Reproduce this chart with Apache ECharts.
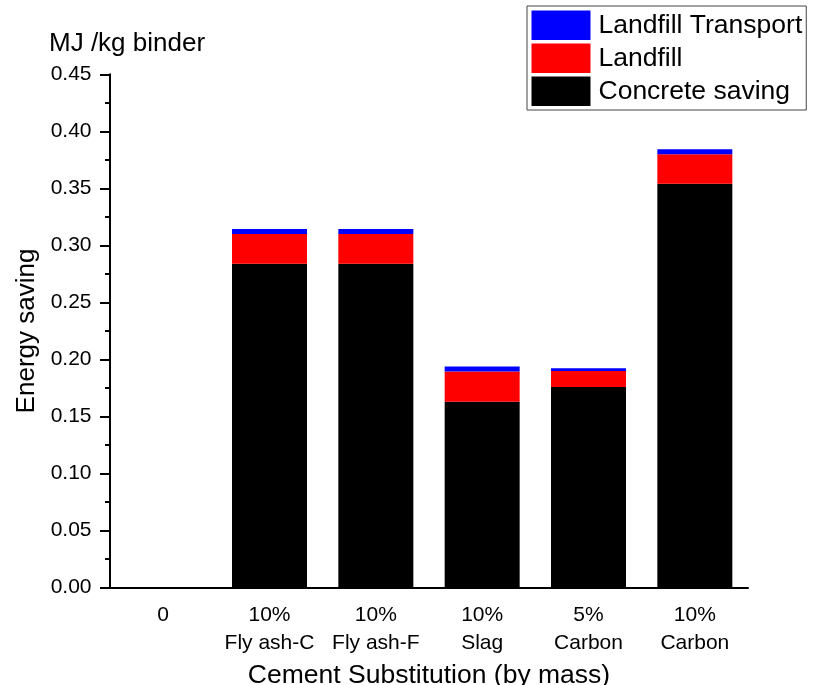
<!DOCTYPE html>
<html>
<head>
<meta charset="utf-8">
<script src="https://cdn.jsdelivr.net/npm/echarts@6/dist/echarts.min.js"></script>
<style>
  html, body { margin: 0; padding: 0; background: #fff; }
  #chart { width: 822px; height: 685px; }
</style>
</head>
<body>
<div id="chart"></div>
<script>
// categories on the x axis (two lines each)
const categories = ['0', '10%\nFly ash-C', '10%\nFly ash-F', '10%\nSlag', '5%\nCarbon', '10%\nCarbon'];

// stacked parts, MJ / kg binder
const concreteSaving = [0, 0.284, 0.284, 0.163, 0.176, 0.354];
const landfill = [0, 0.026, 0.026, 0.0265, 0.014, 0.026];
const landfillTransport = [0, 0.0044, 0.0044, 0.0044, 0.0024, 0.0042];

const font = 'Arial, "Liberation Sans", sans-serif';

const chart = echarts.init(document.getElementById('chart'), null, { renderer: 'canvas' });

chart.setOption({
    backgroundColor: '#fff',
    animation: false,
    textStyle: { fontFamily: font, color: '#000' },
    title: {
        text: 'MJ /kg binder',
        left: 44,
        top: 26,
        textStyle: { fontFamily: font, fontSize: 26, fontWeight: 'normal', color: '#000' }
    },
    legend: {
        data: ['Landfill Transport', 'Landfill', 'Concrete saving'],
        orient: 'vertical',
        left: 527,
        top: 6,
        padding: [4.5, 4, 4, 4.5],
        itemGap: 3.5,
        itemWidth: 59,
        itemHeight: 29.5,
        icon: 'rect',
        borderColor: '#444',
        borderWidth: 1,
        textStyle: { fontFamily: font, fontSize: 26.5, lineHeight: 29.5, color: '#000', padding: [0, 0, 0, 3] }
    },
    grid: {
        left: 110, right: 74, top: 74.3, bottom: 97.3,
        containLabel: false,
        outerBoundsMode: 'none'
    },
    xAxis: [
        {
            type: 'category',
            data: categories,
            name: 'Cement Substitution (by mass)',
            nameLocation: 'middle',
            nameGap: 69,
            nameTextStyle: { fontFamily: font, fontSize: 26.5, color: '#000' },
            axisLine: { lineStyle: { color: '#000', width: 2 } },
            axisTick: { alignWithLabel: true, length: 9, lineStyle: { color: '#000', width: 2 } },
            axisLabel: { interval: 0, fontFamily: font, fontSize: 21, color: '#000', margin: 14, lineHeight: 28 }
        },
        {
            // short ticks at category boundaries
            type: 'category',
            data: categories,
            position: 'bottom',
            axisLine: { show: false },
            axisTick: { interval: 0, alignWithLabel: false, length: 5, lineStyle: { color: '#000', width: 2 } },
            axisLabel: { show: false }
        }
    ],
    yAxis: {
        type: 'value',
        min: 0,
        max: 0.45,
        interval: 0.05,
        name: 'Energy saving',
        nameLocation: 'middle',
        nameGap: 65,
        nameRotate: 90,
        nameTextStyle: { fontFamily: font, fontSize: 26, color: '#000' },
        axisLine: { show: true, lineStyle: { color: '#000', width: 2 } },
        axisTick: { show: true, length: 10, lineStyle: { color: '#000', width: 2 } },
        minorTick: { show: true, splitNumber: 2, length: 5, lineStyle: { color: '#000', width: 2 } },
        splitLine: { show: false },
        axisLabel: {
            fontFamily: font, fontSize: 21, color: '#000', margin: 18.5,
            formatter: v => v.toFixed(2)
        }
    },
    series: [
        {
            name: 'Concrete saving',
            type: 'bar',
            stack: 'total',
            barWidth: 75,
            itemStyle: { color: '#000' },
            data: concreteSaving
        },
        {
            name: 'Landfill',
            type: 'bar',
            stack: 'total',
            barWidth: 75,
            itemStyle: { color: '#ff0000' },
            data: landfill
        },
        {
            name: 'Landfill Transport',
            type: 'bar',
            stack: 'total',
            barWidth: 75,
            itemStyle: { color: '#0000ff' },
            data: landfillTransport
        }
    ]
});
</script>
</body>
</html>
